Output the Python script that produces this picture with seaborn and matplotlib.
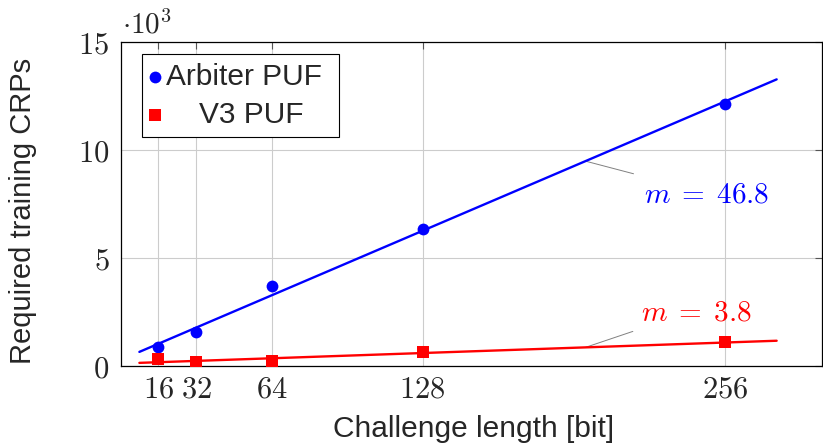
import numpy as np
import pandas as pd
import seaborn as sns
import matplotlib
matplotlib.use("Agg")
import matplotlib.pyplot as plt

# Measured training-set sizes per challenge length
challenge_bits = [16, 32, 64, 128, 256]
arbiter_crps = [890, 1590, 3700, 6340, 12160]
v3_crps = [310, 185, 230, 630, 1100]

# Linear fits (slope in CRPs per bit, intercept in CRPs)
arbiter_slope, arbiter_icpt = 46.8, 280
v3_slope, v3_icpt = 3.8, 115
fit_domain = (8, 278)

x_ticks = [16, 32, 64, 128, 256]
y_ticks = [0, 5000, 10000, 15000]

BLUE = "#0000ff"
RED = "#ff0000"
SANS = 21.5

sns.set_theme(style="white")
plt.rcParams["font.family"] = ["Liberation Sans", "DejaVu Sans"]
plt.rcParams["mathtext.fontset"] = "cm"

fig = plt.figure(figsize=(8.23, 4.48), dpi=100)
ax = fig.add_axes([120.5 / 823, 1 - 366 / 448, 701 / 823, 323.5 / 448])

xs = np.linspace(*fit_domain, 50)
fits = pd.DataFrame({
    "x": np.concatenate([xs, xs]),
    "y": np.concatenate([arbiter_slope * xs + arbiter_icpt, v3_slope * xs + v3_icpt]),
    "series": ["Arbiter PUF"] * len(xs) + ["V3 PUF"] * len(xs),
})
sns.lineplot(data=fits, x="x", y="y", hue="series", palette=[BLUE, RED],
             legend=False, lw=1.7, ax=ax, zorder=3)

pts = pd.DataFrame({"bits": challenge_bits, "arb": arbiter_crps, "v3": v3_crps})
sns.scatterplot(data=pts, x="bits", y="arb", color=BLUE, marker="o", s=72,
                linewidth=0, label="Arbiter PUF ", ax=ax, zorder=4)
sns.scatterplot(data=pts, x="bits", y="v3", color=RED, marker="s", s=70,
                linewidth=0, label="    V3 PUF", ax=ax, zorder=4)

ax.set_xlim(0, 297)
ax.set_ylim(0, 15000)
ax.set_xticks(x_ticks)
ax.set_xticklabels([f"${v}$" for v in x_ticks])
ax.set_yticks(y_ticks)
ax.set_yticklabels([f"${v // 1000}$" for v in y_ticks])
ax.tick_params(axis="both", direction="in", length=5, width=0.8, color="#555555",
               top=True, right=True, labelsize=22)
ax.tick_params(axis="x", pad=6)
ax.tick_params(axis="y", pad=8)
ax.grid(True, color="#cccccc", lw=0.8)
for s in ax.spines.values():
    s.set_color("black")
    s.set_linewidth(0.9)

ax.annotate(r"$\cdot 10^3$", xy=(0, 1), xycoords="axes fraction",
            xytext=(1, 6.5), textcoords="offset points",
            ha="left", va="baseline", fontsize=21)

ax.set_xlabel("Challenge length [bit]", fontsize=SANS)
ax.xaxis.label.set_va("baseline")
ax.xaxis.set_label_coords((474 - 120.5) / 701, (366 - 436.7) / 323.5)
ax.set_ylabel("Required training CRPs", fontsize=21)
ax.yaxis.label.set_va("center")
ax.yaxis.label.set_ha("center")
ax.yaxis.set_label_coords((23 - 120.5) / 701, (366 - 211) / 323.5)

# Slope pins at 70 % along each fit
pin_x = fit_domain[0] + 0.7 * (fit_domain[1] - fit_domain[0])
for slope, icpt, col, label, pin_off, txt_off in [
    (arbiter_slope, arbiter_icpt, BLUE, r"$m \;=\; 46.8$", (34.6, -9.1), (42.3, -24.3)),
    (v3_slope, v3_icpt, RED, r"$m \;=\; 3.8$", (34.1, 11.5), (40.0, 24.8)),
]:
    anchor = (pin_x, slope * pin_x + icpt)
    ax.annotate("", xy=anchor, xytext=pin_off, textcoords="offset points",
                arrowprops=dict(arrowstyle="-", color="#808080", lw=0.7,
                                shrinkA=0, shrinkB=0), zorder=2)
    ax.annotate(label, xy=anchor, xytext=txt_off, textcoords="offset points",
                ha="left", va="center", color=col, fontsize=21, zorder=5)

leg = ax.legend(loc="upper left", bbox_to_anchor=((141.7 - 120.5) / 701, (366 - 54) / 323.5),
                borderaxespad=0, fontsize=SANS, frameon=True, fancybox=False,
                framealpha=1, edgecolor="black", borderpad=0.3, labelspacing=0.32,
                handlelength=0.3, handletextpad=0.2)
leg.get_frame().set_linewidth(0.8)

fig.savefig("out.png", dpi=100)
